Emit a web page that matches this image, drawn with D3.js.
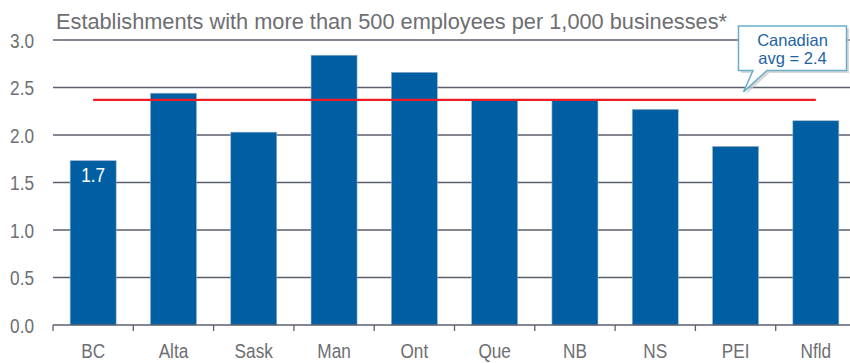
<!DOCTYPE html>
<html>
<head>
<meta charset="utf-8">
<script src="https://cdn.jsdelivr.net/npm/d3@7"></script>
<style>
  html, body { margin: 0; padding: 0; background: #fff; }
  svg { display: block; }
</style>
</head>
<body>
<svg id="chart" width="850" height="363"></svg>
<script>
// Large establishments per 1,000 businesses, by province
const provinces = ["BC", "Alta", "Sask", "Man", "Ont", "Que", "NB", "NS", "PEI", "Nfld"];
const establishments = [1.73, 2.44, 2.03, 2.84, 2.66, 2.37, 2.37, 2.27, 1.88, 2.15];
const canadianAvg = 2.37;
const yTicks = [0, 0.5, 1.0, 1.5, 2.0, 2.5, 3.0];
const labelledProvince = "BC";
const titleText = "Establishments with more than 500 employees per 1,000 businesses*";

const svg = d3.select("#chart");
const fmt = d3.format(".1f");
const sans = "'Liberation Sans', Arial, sans-serif";
// Axis labels use a condensed face: regular sans squeezed horizontally
const narrow = 0.84;

const x = d3.scaleBand()
  .domain(provinces)
  .range([53, 856])
  .paddingInner(0.427)
  .paddingOuter(0.2135);

const y = d3.scaleLinear().domain([0, 3]).range([325, 40]);

const gray = "#6d6e71";
const gridColor = "#5b5f6d";
const barColor = "#005fa3";

// Title
svg.append("text")
  .attr("x", 56).attr("y", 28.5)
  .attr("font-family", sans)
  .attr("font-size", 21.75)
  .attr("fill", gray)
  .text(titleText);

// Horizontal gridlines
svg.append("g")
  .selectAll("line")
  .data(yTicks.filter(d => d > 0))
  .join("line")
  .attr("x1", 53).attr("x2", 850)
  .attr("y1", d => y(d)).attr("y2", d => y(d))
  .attr("stroke", gridColor)
  .attr("stroke-width", 1.3);

// Y tick labels
svg.append("g")
  .selectAll("text")
  .data(yTicks)
  .join("text")
  .attr("transform", d => `translate(34,${y(d) + 7.5}) scale(${narrow},1)`)
  .attr("text-anchor", "end")
  .attr("font-family", sans)
  .attr("font-size", 20.5)
  .attr("fill", gray)
  .text(d => fmt(d));

// Bars
svg.append("g")
  .selectAll("rect")
  .data(provinces.map((p, i) => ({ p, v: establishments[i] })))
  .join("rect")
  .attr("x", d => x(d.p))
  .attr("y", d => y(d.v))
  .attr("width", x.bandwidth())
  .attr("height", d => y(0) - y(d.v))
  .attr("fill", barColor)
  .attr("stroke", "#9fb3c8")
  .attr("stroke-width", 0.6);

// Value label inside the first bar
const li = provinces.indexOf(labelledProvince);
svg.append("text")
  .attr("transform", `translate(${x(labelledProvince) + x.bandwidth() / 2},${y(establishments[li]) + 21.5}) scale(${narrow},1)`)
  .attr("text-anchor", "middle")
  .attr("font-family", sans)
  .attr("font-size", 20.5)
  .attr("fill", "#ffffff")
  .text(fmt(establishments[li]));

// X axis baseline and category ticks
const step = x.step();
const x0 = x.range()[0];
svg.append("line")
  .attr("x1", x0).attr("x2", 850)
  .attr("y1", y(0)).attr("y2", y(0))
  .attr("stroke", gridColor).attr("stroke-width", 1.5);

svg.append("g")
  .selectAll("line")
  .data(d3.range(provinces.length + 1))
  .join("line")
  .attr("x1", i => x0 + i * step).attr("x2", i => x0 + i * step)
  .attr("y1", y(0)).attr("y2", y(0) + 6)
  .attr("stroke", gridColor).attr("stroke-width", 1.3);

svg.append("g")
  .selectAll("text")
  .data(provinces)
  .join("text")
  .attr("transform", d => `translate(${x(d) + x.bandwidth() / 2},358) scale(${narrow},1)`)
  .attr("text-anchor", "middle")
  .attr("font-family", sans)
  .attr("font-size", 20.5)
  .attr("fill", gray)
  .text(d => d);

// Canadian average line, from first to last category centre
const cFirst = x(provinces[0]) + x.bandwidth() / 2;
const cLast = x(provinces[provinces.length - 1]) + x.bandwidth() / 2;
svg.append("line")
  .attr("x1", cFirst).attr("x2", cLast)
  .attr("y1", y(canadianAvg)).attr("y2", y(canadianAvg))
  .attr("stroke", "#ee1c25")
  .attr("stroke-width", 2.4);

// Callout box pointing at the average line
const bx = 738.5, by = 26, bw = 108, bh = 44.5;
const tip = [743.5, y(canadianAvg) - 8];
const calloutPath = d3.path();
calloutPath.moveTo(bx, by);
calloutPath.lineTo(bx + bw, by);
calloutPath.lineTo(bx + bw, by + bh);
calloutPath.lineTo(767, by + bh);
calloutPath.lineTo(tip[0], tip[1]);
calloutPath.lineTo(753, by + bh);
calloutPath.lineTo(bx, by + bh);
calloutPath.closePath();

svg.append("path")
  .attr("d", calloutPath.toString())
  .attr("transform", "translate(2.5,2.5)")
  .attr("fill", "#c9c9c9")
  .attr("opacity", 0.7);

svg.append("path")
  .attr("d", calloutPath.toString())
  .attr("fill", "#ffffff")
  .attr("stroke", "#6aaec6")
  .attr("stroke-width", 1.5);

const callout = svg.append("text")
  .attr("font-family", sans)
  .attr("font-size", 16.5)
  .attr("fill", "#1e63a6")
  .attr("text-anchor", "middle");
callout.append("tspan").attr("x", 792.5).attr("y", 46).text("Canadian");
callout.append("tspan").attr("x", 792.5).attr("y", 64).text("avg = " + fmt(canadianAvg));
</script>
</body>
</html>
